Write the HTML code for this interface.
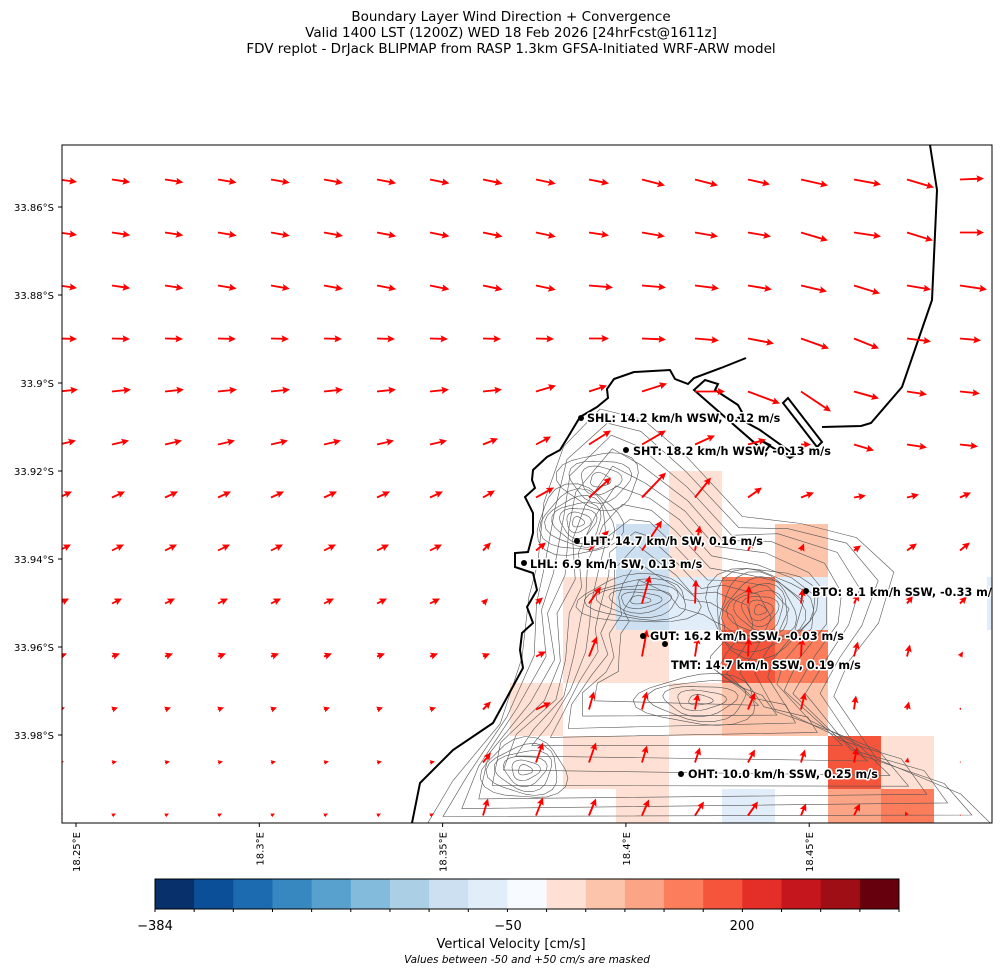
<!DOCTYPE html>
<html><head><meta charset="utf-8">
<style>
body{margin:0;background:#fff;}
svg{display:block;font-family:"DejaVu Sans","Liberation Sans",sans-serif;}
.lbl{font-size:11.2px;font-weight:bold;fill:#000;stroke:#fff;stroke-width:3;paint-order:stroke;stroke-linejoin:round;}
</style></head><body>
<svg id="s" width="1007" height="974" viewBox="0 0 1007 974" xmlns="http://www.w3.org/2000/svg">
<defs><clipPath id="ax"><rect x="62" y="145" width="930" height="678"/></clipPath></defs>
<text x="511" y="21" font-size="13.5" text-anchor="middle">Boundary Layer Wind Direction + Convergence</text>
<text x="511" y="37" font-size="13.5" text-anchor="middle">Valid 1400 LST (1200Z) WED 18 Feb 2026 [24hrFcst@1611z]</text>
<text x="511" y="53" font-size="13.5" text-anchor="middle">FDV replot - DrJack BLIPMAP from RASP 1.3km GFSA-Initiated WRF-ARW model</text>
<g clip-path="url(#ax)">
<g id="cells"></g>
<g id="cont" fill="none" stroke="#555" stroke-width="0.6"></g>
<path fill="none" stroke="#000" stroke-width="2" d="M930,145 L937,190 L932,300 L902,387 L871,423 L861,426 L822,427"/>
<path fill="none" stroke="#000" stroke-width="2" d="M783,403 L788,398 L822,442 L817,447 Z"/>
<path fill="none" stroke="#000" stroke-width="2" d="M694,390 L705,380 L718,384 L715,390 L738,405 L743,414 L738,418 L760,430 L795,455 L790,458 L760,440 L770,445 L765,452 Z"/>
<path fill="none" stroke="#000" stroke-width="2" d="M746,358 L721,368 L694,378 L688,384 L675,379 L670,370 L634,372 L614,379 L607,389 L608,398 L597,407 L580,417 L568,437 L560,450 L547,457 L533,470 L532,480 L535,488 L525,497 L533,513 L533,533 L528,552 L515,553 L515,567 L533,573 L537,590 L527,607 L533,623 L522,633 L520,650 L523,668 L493,723 L453,750 L420,783 L412,823"/>
<g id="arr" fill="#ff0000"></g>
<g id="st"></g>
</g>
<rect x="62" y="145" width="930" height="678" fill="none" stroke="#000" stroke-width="1"/>
<g id="ticks" font-size="10"></g>
<g id="cbar"></g>
<text x="155" y="930" font-size="13" text-anchor="middle">−384</text>
<text x="508" y="930" font-size="13" text-anchor="middle">−50</text>
<text x="742" y="930" font-size="13" text-anchor="middle">200</text>
<text x="511" y="948" font-size="13" text-anchor="middle">Vertical Velocity [cm/s]</text>
<text x="527" y="963" font-size="10.5" font-style="italic" text-anchor="middle">Values between -50 and +50 cm/s are masked</text>
</svg>
<script>
var NS="http://www.w3.org/2000/svg";
function el(p,t,a,txt){var e=document.createElementNS(NS,t);for(var k in a)e.setAttribute(k,a[k]);if(txt)e.textContent=txt;document.getElementById(p).appendChild(e);return e;}
var P1="#fee1d4",P2="#fcc4ab",P3="#fca486",P4="#fb7d5c",P5="#f5553b",B1="#e1edf8",B2="#cde0f1";
var cells=[[669,471,P1],[616,524,B2],[669,524,P1],[775,524,P2],
[563,577,P1],[616,577,B2],[669,577,B1],[722,577,P4],[775,577,B1],[987,577,B1],
[563,630,P1],[616,630,P1],[722,630,P5],[775,630,P4],
[510,683,P1],[669,683,P1],[722,683,P2],[775,683,P2],
[563,736,P1],[616,736,P1],[828,736,P5],[881,736,P1],
[616,789,P1],[722,789,B1],[828,789,P3],[881,789,P4]];
cells.forEach(function(c){el("cells","rect",{x:c[0],y:c[1],width:53,height:53,fill:c[2]});});
var base=[[600,405],[640,420],[690,460],[740,515],[800,520],[860,540],[890,575],[880,620],[850,660],[830,700],[880,760],[960,790],[995,830],[430,830],[450,780],[500,720],[525,660],[525,600],[540,560],[545,500],[560,450]];
for(var k=0;k<12;k++){var f=1-k*0.065,cx=660,cy=650;var d="";base.forEach(function(p,i){var x=cx+(p[0]-cx)*f+Math.sin(i*2.3+k)*4,y=cy+(p[1]-cy)*f+Math.cos(i*1.7+k)*4;d+=(i?"L":"M")+x.toFixed(1)+","+y.toFixed(1);});el("cont","path",{d:d+"Z"});}
function rings(cx,cy,n,rx,ry){for(var i=1;i<=n;i++){var d="";for(var a=0;a<=24;a++){var t=a/24*6.283,r=1+0.12*Math.sin(3*t+i);d+=(a?"L":"M")+(cx+Math.cos(t)*rx*i*r).toFixed(1)+","+(cy+Math.sin(t)*ry*i*r).toFixed(1);}el("cont","path",{d:d});}}
rings(578,522,7,6,5);rings(760,610,9,6,5);rings(525,770,6,7,5);rings(640,600,6,10,4);rings(700,700,5,12,5);rings(600,480,4,10,7);
function arrow(x,y,dx,dy){var L=Math.hypot(dx,dy);if(L<0.5)return;var ux=dx/L,uy=dy/L,nx=-uy,ny=ux;var w=1.9,hl=7.5,ha=6.5,hw=3.6,s=1;if(L<hl){s=L/hl;}w*=s;hl*=s;ha*=s;hw*=s;
function P(a,b){return (x+ux*a+nx*b).toFixed(1)+","+(y+uy*a+ny*b).toFixed(1);}
var pts=[P(0,w/2),P(L-ha,w/2),P(L-hl,hw),P(L,0),P(L-hl,-hw),P(L-ha,-w/2),P(0,-w/2)];el("arr","polygon",{points:pts.join(" ")});}
var T={
0:{10:[20,4],11:[23,6],12:[23,6],13:[22,5],14:[27,6],15:[27,5],16:[27,8],17:[24,-1]},
1:{10:[20,3],11:[23,4],12:[23,4],13:[23,4],14:[27,8],15:[27,4],16:[26,8],17:[24,0]},
2:{10:[24,2],11:[24,2],12:[24,3],13:[24,4],14:[26,6],15:[26,8],16:[24,4],17:[27,4]},
3:{10:[20,0],11:[24,1],12:[24,2],13:[26,5],14:[28,10],15:[25,10],16:[24,3],17:[21,2]},
4:{9:[20,-6],10:[18,-6],11:[25,-8],12:[30,0],13:[32,12],14:[30,20],15:[25,7],16:[20,3],17:[20,2]},
5:{8:[15,-6],9:[15,-8],10:[22,-14],11:[24,-14],12:[20,-9],13:[18,-5],14:[10,0],15:[20,6],16:[20,3],17:[18,2]},
6:{8:[12,-7],9:[18,-10],10:[22,-20],11:[24,-25],12:[16,-20],13:[14,-10],14:[13,-5],15:[12,-2],16:[12,-3],17:[11,-5]},
7:{8:[8,-8],9:[10,-8],10:[20,-20],11:[20,-30],12:[5,-25],13:[5,-10],14:[3,-7],15:[7,-5],16:[10,-7],17:[10,-8]},
8:{8:[5,-5],9:[7,-6],10:[12,-17],11:[8,-28],12:[1,-24],13:[1,-18],14:[2,-15],15:[5,-10],16:[6,-8],17:[7,-7]},
9:{8:[7,-3],9:[10,-5],10:[8,-20],11:[5,-27],12:[3,-20],13:[1,-19],14:[1,-19],15:[4,-15],16:[3,-12],17:[3,-5]},
10:{8:[8,-8],9:[15,-7],10:[5,-18],11:[5,-18],12:[3,-16],13:[7,-17],14:[4,-17],15:[2,-14],16:[2,-8],17:[1,-2]},
11:{8:[8,-10],9:[7,-20],10:[7,-20],11:[5,-17],12:[5,-15],13:[7,-13],14:[4,-13],15:[3,-15],16:[1,-5],17:[1,-1]},
12:{8:[5,-17],9:[7,-18],10:[7,-17],11:[7,-16],12:[9,-14],13:[10,-14],14:[5,-12],15:[6,-12],16:[-2,-4],17:[1,-1]}};
var D={3:[18,0.5],4:[19,-2],5:[17,-4],6:[13,-6],7:[12,-6],8:[10,-5],9:[8,-3],10:[6,-2],11:[5,-1],12:[4,-2]};
for(var j=0;j<13;j++)for(var i=0;i<18;i++){var x=59+53*i,y=179.5+53*j,v=(T[j]&&T[j][i])||D[j]||[18+0.2*i,2.5+0.2*i];arrow(x,y,v[0],v[1]);}
var S=[[581,418,587,418,"SHL: 14.2 km/h WSW, 0.12 m/s"],[626,450,633,451,"SHT: 18.2 km/h WSW, -0.13 m/s"],[577,541,583,541,"LHT: 14.7 km/h SW, 0.16 m/s"],[524,563,530,564,"LHL: 6.9 km/h SW, 0.13 m/s"],[806,591,812,592,"BTO: 8.1 km/h SSW, -0.33 m/s"],[643,636,650,636,"GUT: 16.2 km/h SSW, -0.03 m/s"],[665,644,671,665,"TMT: 14.7 km/h SSW, 0.19 m/s"],[681,774,688,774,"OHT: 10.0 km/h SSW, 0.25 m/s"]];
S.forEach(function(s){el("st","circle",{cx:s[0],cy:s[1],r:3,fill:"#000"});el("st","text",{x:s[2],y:s[3]+4,"class":"lbl"},s[4]);});
var yl=["33.86°S","33.88°S","33.9°S","33.92°S","33.94°S","33.96°S","33.98°S"];
yl.forEach(function(t,k){var y=207+88*k;el("ticks","line",{x1:58,y1:y,x2:62,y2:y,stroke:"#000"});el("ticks","text",{x:54,y:y+4,"text-anchor":"end"},t);});
var xl=["18.25°E","18.3°E","18.35°E","18.4°E","18.45°E"];
xl.forEach(function(t,k){var x=76+183.3*k;el("ticks","line",{x1:x,y1:823,x2:x,y2:827,stroke:"#000"});el("ticks","text",{x:0,y:0,"text-anchor":"end",transform:"translate("+(x+4)+",832) rotate(-90)"},t);});
var C=["#08306b","#0a4f97","#1c6ab0","#3787c0","#58a1cf","#82bbdb","#abcfe5","#cde0f1","#e1edf8","#f7fbff","#fee1d4","#fcc4ab","#fca486","#fb7d5c","#f5553b","#e32f27","#c4161c","#9f0e14","#67000d"];
var w=(899-155)/19;C.forEach(function(c,k){el("cbar","rect",{x:155+w*k,y:879,width:w+0.5,height:30,fill:c});});
el("cbar","rect",{x:155,y:879,width:744,height:30,fill:"none",stroke:"#000","stroke-width":1});
for(var k=0;k<=19;k++){var x=155+w*k;el("cbar","line",{x1:x,y1:909,x2:x,y2:912,stroke:"#000"});}
</script>
</body></html>
